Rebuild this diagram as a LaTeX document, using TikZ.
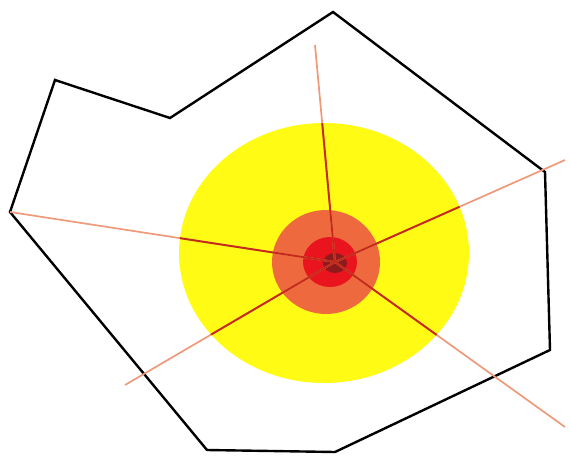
\documentclass[tikz,border=0pt]{standalone}
\usepackage[dvipsnames,svgnames]{xcolor}
\usepackage{tikz}
\usetikzlibrary{calc}
\definecolor{cyel}{HTML}{FFFB14}
\definecolor{corg}{HTML}{EE6A3E}
\definecolor{cred}{HTML}{EA141E}
\definecolor{ccore}{HTML}{8E1A1C}
\definecolor{cray}{HTML}{EE9A7A}
\definecolor{craydk}{HTML}{C42A1A}
\tikzset{
  border/.style={draw=black, line width=2.4pt, line join=miter},
  ray/.style={draw=cray, line width=1.7pt},
  raydk/.style={draw=craydk, line width=1.9pt},
}
\begin{document}
\begin{tikzpicture}[x=1pt, y=-1pt]
\useasboundingbox (0,0) rectangle (570,455);
% zones
\fill[cyel] (324,253) ellipse [x radius=145, y radius=130];
\fill[corg] (326,262) ellipse [x radius=54, y radius=52];
\fill[cred] (330,262) ellipse [x radius=27, y radius=25];
\fill[ccore] (335,263) ellipse [x radius=12, y radius=10];
% outline
\draw[border] (55,80) -- (170,118) -- (333,12) -- (545,172) -- (550,350)
  -- (335,452) -- (207,450) -- (10,212) -- cycle;
% rays
\coordinate (o) at (335,262);
\coordinate (rt) at (315,45);
\coordinate (rr) at (565,160);
\coordinate (rl) at (10,212);
\coordinate (rbl) at (125,385);
\coordinate (rbr) at (565,427);
\foreach \p in {rt,rr,rl,rbl,rbr} \draw[ray] (o) -- (\p);
\begin{scope}
\clip (324,253) ellipse [x radius=145, y radius=130];
\foreach \p in {rt,rr,rl,rbl,rbr} \draw[raydk] (o) -- (\p);
\end{scope}
\end{tikzpicture}
\end{document}
